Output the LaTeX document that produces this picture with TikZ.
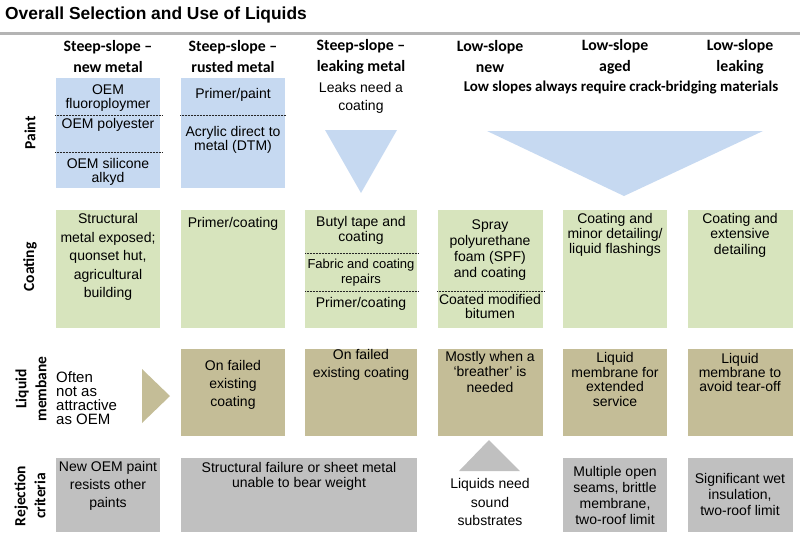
\documentclass[tikz,border=0pt]{standalone}
\usepackage{fontspec}
\setmainfont{Liberation Sans}
\newfontfamily\headfont{Carlito}
\usepackage{xcolor}
\usepackage{tikz}

\definecolor{paintblue}{RGB}{198,217,241}
\definecolor{coatgreen}{RGB}{215,228,189}
\definecolor{membtan}{RGB}{196,189,151}
\definecolor{rejgrey}{RGB}{192,192,192}
\definecolor{rulegrey}{RGB}{180,180,180}

\tikzset{
	cell/.style={anchor=north west,inner sep=0pt,outer sep=0pt,minimum width=104},
	paintcell/.style={cell,fill=paintblue,minimum height=110},
	coatcell/.style={cell,fill=coatgreen,minimum height=118},
	membcell/.style={cell,fill=membtan,minimum height=87},
	rejcell/.style={cell,fill=rejgrey,minimum height=74},
	txt/.style={font=\fontsize{14}{14.5}\selectfont,align=center,inner sep=0pt},
	lines/.style={font=\fontsize{14}{#1}\selectfont},
	head/.style={font=\headfont\bfseries\fontsize{15.8}{21}\selectfont,align=center,inner sep=0pt},
	rowlabel/.style={font=\headfont\bfseries\fontsize{15.5}{20}\selectfont,align=center,inner sep=0pt,rotate=90},
	sepline/.style={black!85,line width=0.9pt,dash pattern=on 0.9pt off 0.6pt}
}

\begin{document}
\begin{tikzpicture}[x=1pt,y=-1pt]
				\useasboundingbox (0,0) rectangle (800,539);
				\node [anchor=base west,inner sep=0pt,font=\bfseries\fontsize{17.4}{20}\selectfont] (title) at (5,19) {Overall Selection and Use of Liquids};
				\draw [rulegrey,line width=3pt] (0,33.5) -- (800,33.5);

				\node [head] (h1) at (108,57) {Steep-slope –\\new metal};
				\node [head] (h2) at (233,57) {Steep-slope –\\rusted metal};
				\node [head] (h3) at (361,57) {Steep-slope –\\leaking metal};
				\node [head] (h4) at (490,57) {Low-slope\\new};
				\node [head] (h5) at (615,57) {Low-slope\\aged};
				\node [head] (h6) at (740,57) {Low-slope\\leaking};

				\node [rowlabel] (lpaint) at (30,133) {Paint};
				\node [rowlabel] (lcoat) at (30,267) {Coating};
				\node [rowlabel] (lmemb) at (31,389) {Liquid\\membane};
				\node [rowlabel] (lrej) at (30,496) {Rejection\\criteria};

				\node [paintcell] (p1) at (56,78) {};
				\node [paintcell] (p2) at (181,78) {};
				\draw [sepline] (55,115) -- (162,115);
				\draw [sepline] (55,152) -- (162,152);
				\draw [sepline] (180,115) -- (286,115);
				\node [txt] (p1a) at (108,98) {OEM\\fluoroploymer};
				\node [txt] (p1b) at (108,124.5) {OEM polyester};
				\node [txt] (p1c) at (108,172) {OEM silicone\\alkyd};
				\node [txt] (p2a) at (233,95) {Primer/paint};
				\node [txt] (p2b) at (233,140) {Acrylic direct to\\metal (DTM)};
				\node [txt,lines=18] (p3) at (361,97.5) {Leaks need a\\coating};
				\node [head,font=\headfont\bfseries\fontsize{15}{16}\selectfont] (lownote) at (621,88) {Low slopes always require crack-bridging materials};
				\fill [paintblue] (325,130) -- (397,130) -- (361,193) -- cycle;
				\fill [paintblue] (487,131) -- (763,131) -- (624,196) -- cycle;

				\node [coatcell] (c1) at (56,210) {};
				\node [coatcell] (c2) at (181,210) {};
				\node [coatcell,minimum width=112] (c3) at (305,210) {};
				\node [coatcell,minimum width=105] (c4) at (438,210) {};
				\node [coatcell] (c5) at (563,210) {};
				\node [coatcell,minimum width=105] (c6) at (688,210) {};
				\draw [sepline] (305,253) -- (418,253);
				\draw [sepline] (305,291) -- (418,291);
				\draw [sepline] (437,291) -- (544,291);
				\node [txt,lines=18.5] (c1a) at (108,257) {Structural\\metal exposed;\\quonset hut,\\agricultural\\building};
				\node [txt] (c2a) at (233,223.5) {Primer/coating};
				\node [txt] (c3a) at (361,230.5) {Butyl tape and\\coating};
				\node [txt,font=\fontsize{13}{14.5}\selectfont] (c3b) at (361,272.5) {Fabric and coating\\repairs};
				\node [txt] (c3c) at (361,303.5) {Primer/coating};
				\node [txt,lines=16] (c4a) at (490,250) {Spray\\polyurethane\\foam (SPF)\\and coating};
				\node [txt] (c4b) at (490,306.5) {Coated modified\\bitumen};
				\node [txt,lines=15] (c5a) at (615,235) {Coating and\\minor detailing/\\liquid flashings};
				\node [txt,lines=15.5] (c6a) at (740,235) {Coating and\\extensive\\detailing};

				\node [txt,align=left,anchor=west,font=\fontsize{15}{14}\selectfont] (m1) at (56,398.5) {Often\\not as\\attractive\\as OEM};
				\fill [membtan] (142,369) -- (170,396) -- (142,423) -- cycle;
				\node [membcell] (m2) at (181,349) {};
				\node [membcell,minimum width=112] (m3) at (305,349) {};
				\node [membcell,minimum width=105] (m4) at (438,349) {};
				\node [membcell] (m5) at (563,349) {};
				\node [membcell,minimum width=105] (m6) at (688,349) {};
				\node [txt,lines=18] (m2a) at (233,384.5) {On failed\\existing\\coating};
				\node [txt,lines=18] (m3a) at (361,365) {On failed\\existing coating};
				\node [txt,lines=15.5] (m4a) at (490,371.5) {Mostly when a\\‘breather’ is\\needed};
				\node [txt] (m5a) at (615,379.5) {Liquid\\membrane for\\extended\\service};
				\node [txt,lines=14] (m6a) at (740,372) {Liquid\\membrane to\\avoid tear-off};

				\node [rejcell] (r1) at (56,458) {};
				\node [rejcell,minimum width=236] (r2) at (181,458) {};
				\node [rejcell] (r5) at (563,458) {};
				\node [rejcell,minimum width=105] (r6) at (688,458) {};
				\fill [rejgrey] (459,471) -- (489,440) -- (520,471) -- cycle;
				\node [txt,lines=18] (r1a) at (108,486) {New OEM paint\\resists other\\paints};
				\node [txt,lines=15.5] (r2a) at (299,476.5) {Structural failure or sheet metal\\unable to bear weight};
				\node [txt,lines=18.5] (r4a) at (490,502) {Liquids need\\sound\\substrates};
				\node [txt,lines=16] (r5a) at (615,495) {Multiple open\\seams, brittle\\membrane,\\two-roof limit};
				\node [txt,lines=16] (r6a) at (740,494.5) {Significant wet\\insulation,\\two-roof limit};
			\end{tikzpicture}
\end{document}
